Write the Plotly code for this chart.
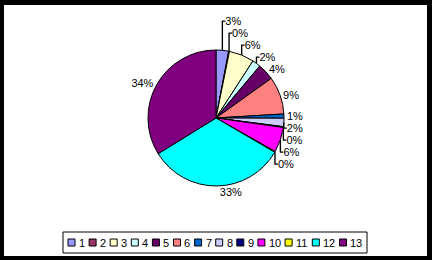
import plotly.graph_objects as go

categories = ["1", "2", "3", "4", "5", "6", "7", "8", "9", "10", "11", "12", "13"]
values = [3, 0.2, 6, 2, 4, 9, 1, 2, 0.2, 6, 0.2, 33, 34]
colors = ["#9999FF", "#993366", "#FFFFCC", "#CCFFFF", "#660066", "#FF8080",
          "#0066CC", "#CCCCFF", "#000080", "#FF00FF", "#FFFF00", "#00FFFF", "#800080"]

W, H = 432, 260
FONT = "Liberation Sans, Arial, sans-serif"

fig = go.Figure(go.Pie(
    labels=categories, values=values, sort=False, direction="clockwise", rotation=0,
    marker=dict(colors=colors, line=dict(color="black", width=1)),
    texttemplate="%{percent:.0%}", textposition="outside",
    textfont=dict(family=FONT, size=11, color="black"),
    domain=dict(x=[0, 1], y=[(142 - 68) / H, (142 + 68) / H]),
    showlegend=False, hoverinfo="label+percent", automargin=False,
))

shapes = [dict(type="rect", xref="paper", yref="paper", layer="below",
               x0=4 / W, x1=427 / W, y0=4 / H, y1=255 / H,
               fillcolor="white", line=dict(width=0))]
annotations = []

# custom compact legend
box_l, box_r, box_t, box_b = 63, 367, 232, 253
shapes.append(dict(type="rect", xref="paper", yref="paper",
                   x0=box_l / W, x1=box_r / W, y0=(H - box_b) / H, y1=(H - box_t) / H,
                   line=dict(color="black", width=1), fillcolor="white"))
cy = (box_t + box_b) / 2
x = 68
sq = 7
for cat, col in zip(categories, colors):
    shapes.append(dict(type="rect", xref="paper", yref="paper",
                       x0=x / W, x1=(x + sq) / W,
                       y0=(H - cy - sq / 2) / H, y1=(H - cy + sq / 2) / H,
                       fillcolor=col, line=dict(color="black", width=1)))
    tw = 6.1 * len(cat)
    annotations.append(dict(xref="paper", yref="paper", x=(x + sq + 2) / W, y=(H - cy) / H,
                            xanchor="left", yanchor="middle", showarrow=False, text=cat,
                            font=dict(family=FONT, size=11, color="black")))
    x += sq + 2 + tw + 6

fig.update_layout(
    width=W, height=H, margin=dict(l=0, r=0, t=0, b=0, pad=0, autoexpand=False),
    paper_bgcolor="black", plot_bgcolor="white",
    shapes=shapes, annotations=annotations,
)
fig.write_html("out.html")
